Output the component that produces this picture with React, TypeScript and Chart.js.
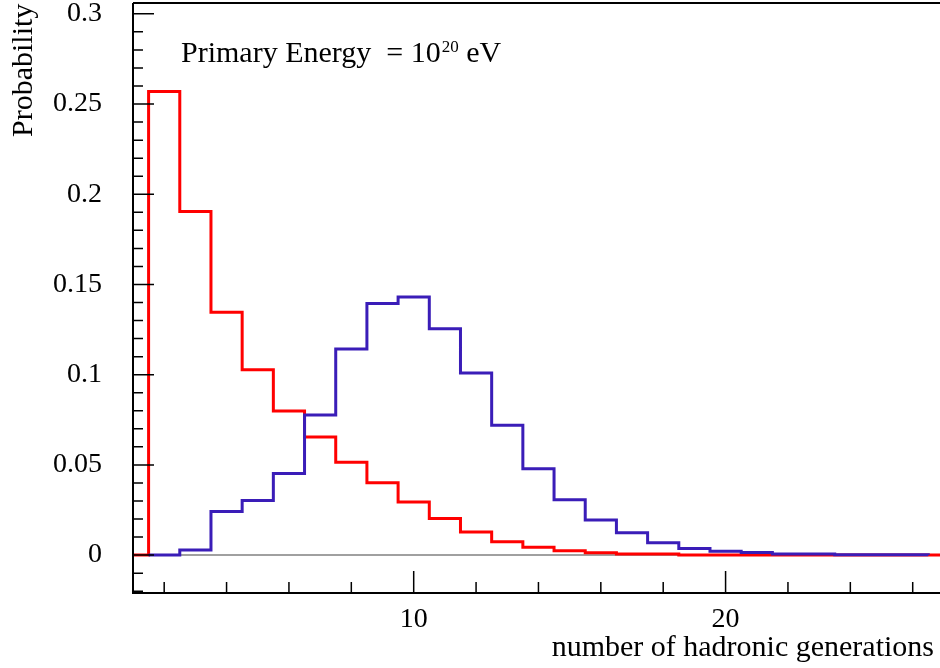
import React, { useEffect, useRef } from 'react';
import { Chart, registerables } from 'chart.js';

Chart.register(...registerables);

// Histogram bins are centred on integer generation numbers (bin width 1)
const redBins = [1, 2, 3, 4, 5, 6, 7, 8, 9, 10, 11, 12, 13, 14, 15, 16, 17, 18, 19, 20, 21, 22, 23, 24, 25, 26, 27, 28];
const redValues = [0, 0.257, 0.1905, 0.1346, 0.1028, 0.0799, 0.0655, 0.0515, 0.0401, 0.0295, 0.0203, 0.0128, 0.0074, 0.0043, 0.0024, 0.0013, 0.0006, 0.0006, 0.0001, 0.0001, 0.0001, 0, 0, 0, 0, 0, 0, 0];

const blueBins = [2, 3, 4, 5, 6, 7, 8, 9, 10, 11, 12, 13, 14, 15, 16, 17, 18, 19, 20, 21, 22, 23, 24, 25, 26];
const blueValues = [0, 0.0028, 0.0242, 0.0303, 0.0452, 0.0777, 0.1142, 0.1395, 0.143, 0.1255, 0.101, 0.072, 0.0478, 0.0307, 0.0194, 0.0124, 0.0068, 0.0037, 0.0021, 0.0015, 0.0006, 0.0006, 0.0002, 0.0002, 0.0002];

const xTickLabels = [10, 20];
const xMinorTicks = [2, 4, 6, 8, 12, 14, 16, 18, 22, 24, 26];
const yTickLabels = [0, 0.05, 0.1, 0.15, 0.2, 0.25, 0.3];

const X_MIN = 1;
const X_MAX = 26.875;
const Y_MIN = -0.021;
const Y_MAX = 0.306;

const FONT = "'Liberation Serif', 'Times New Roman', serif";

function histPoints(bins: number[], values: number[]) {
  const pts = bins.map((c, i) => ({ x: c - 0.5, y: values[i] }));
  pts.push({ x: bins[bins.length - 1] + 0.5, y: 0 });
  return pts;
}

const rootPlugin = {
  id: 'rootStyle',
  beforeDatasetsDraw(chart: any) {
    const { ctx, chartArea, scales } = chart;
    const y0 = scales.y.getPixelForValue(0);
    ctx.save();
    ctx.strokeStyle = '#808080';
    ctx.lineWidth = 1.5;
    ctx.beginPath();
    ctx.moveTo(chartArea.left, y0);
    ctx.lineTo(chartArea.right, y0);
    ctx.stroke();
    ctx.restore();
  },
  afterDraw(chart: any) {
    const { ctx, chartArea, scales } = chart;
    const { left, right, top, bottom } = chartArea;
    ctx.save();
    ctx.strokeStyle = '#000';
    ctx.lineWidth = 2;
    ctx.beginPath();
    ctx.moveTo(left, top);
    ctx.lineTo(left, bottom);
    ctx.lineTo(right, bottom);
    ctx.moveTo(left, top);
    ctx.lineTo(right, top);
    ctx.stroke();

    // y ticks (inside frame)
    ctx.lineWidth = 1.5;
    ctx.beginPath();
    for (let k = -2; k <= 30; k++) {
      const v = k / 100;
      const py = scales.y.getPixelForValue(v);
      const len = k % 5 === 0 ? 21 : 10;
      ctx.moveTo(left, py);
      ctx.lineTo(left + len, py);
    }
    // x ticks (inside frame)
    xMinorTicks.forEach((v) => {
      const px = scales.x.getPixelForValue(v);
      ctx.moveTo(px, bottom);
      ctx.lineTo(px, bottom - 11);
    });
    xTickLabels.forEach((v) => {
      const px = scales.x.getPixelForValue(v);
      ctx.moveTo(px, bottom);
      ctx.lineTo(px, bottom - 22);
    });
    ctx.stroke();

    // texts
    ctx.fillStyle = '#000';
    ctx.textBaseline = 'alphabetic';
    ctx.font = `30px ${FONT}`;
    ctx.textAlign = 'right';
    ctx.fillText('number of hadronic generations', 934, 656);

    ctx.save();
    ctx.translate(32, 137);
    ctx.rotate(-Math.PI / 2);
    ctx.textAlign = 'left';
    ctx.fillText('Probability', 0, 0);
    ctx.restore();

    ctx.textAlign = 'left';
    const main = 'Primary Energy  = 10';
    ctx.fillText(main, 181, 62);
    const w = ctx.measureText(main).width;
    ctx.font = `17px ${FONT}`;
    ctx.fillText('20', 181 + w + 1, 51.5);
    const w2 = ctx.measureText('20').width;
    ctx.font = `30px ${FONT}`;
    ctx.fillText(' eV', 181 + w + 1 + w2, 62);
    ctx.restore();
  },
};

export default function App() {
  const ref = useRef<HTMLCanvasElement | null>(null);
  useEffect(() => {
    if (!ref.current) return;
    const chart = new Chart(ref.current, {
      type: 'line',
      data: {
        datasets: [
          {
            label: 'blue',
            data: histPoints(blueBins, blueValues),
            borderColor: '#3a1db8',
            borderWidth: 3,
            stepped: 'before',
            pointRadius: 0,
            fill: false,
          },
          {
            label: 'red',
            data: histPoints(redBins, redValues),
            borderColor: '#ff0000',
            borderWidth: 3,
            stepped: 'before',
            pointRadius: 0,
            fill: false,
          },
        ],
      },
      options: {
        animation: false,
        responsive: false,
        parsing: false,
        layout: { padding: { top: 3, left: 0, right: 0, bottom: 0 } },
        plugins: { legend: { display: false }, tooltip: { enabled: false } },
        scales: {
          x: {
            type: 'linear',
            min: X_MIN,
            max: X_MAX,
            grid: { display: false, drawTicks: false },
            border: { display: false },
            ticks: {
              color: '#000',
              font: { family: FONT, size: 28 },
              padding: 10,
              maxRotation: 0,
              autoSkip: false,
              callback: (v: any) => String(v),
            },
            afterBuildTicks: (s: any) => {
              s.ticks = xTickLabels.map((v) => ({ value: v }));
            },
            afterFit: (s: any) => {
              s.height = 75;
              s.paddingLeft = 0;
              s.paddingRight = 0;
              s.paddingTop = 0;
              s.paddingBottom = 0;
            },
          },
          y: {
            type: 'linear',
            min: Y_MIN,
            max: Y_MAX,
            grid: { display: false, drawTicks: false },
            border: { display: false },
            ticks: {
              color: '#000',
              font: { family: FONT, size: 28 },
              padding: 31,
              autoSkip: false,
              callback: (v: any) => String(Math.round(v * 100) / 100),
            },
            afterBuildTicks: (s: any) => {
              s.ticks = yTickLabels.map((v) => ({ value: v }));
            },
            afterFit: (s: any) => {
              s.width = 133;
              s.paddingLeft = 0;
              s.paddingRight = 0;
              s.paddingTop = 0;
              s.paddingBottom = 0;
            },
          },
        },
      },
      plugins: [rootPlugin],
    });
    return () => chart.destroy();
  }, []);
  return (
    <div style={{ position: 'absolute', left: 0, top: 0, width: 940, height: 668, background: '#fff' }}>
      <canvas ref={ref} width={940} height={668} style={{ display: 'block' }} />
    </div>
  );
}
